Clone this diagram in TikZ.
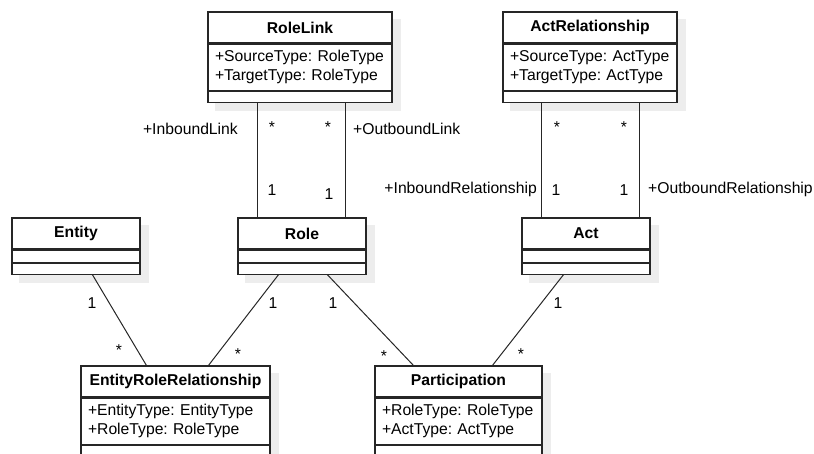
\documentclass[tikz,border=0pt]{standalone}
\usepackage{fontspec}
\setmainfont{Liberation Sans}
\usetikzlibrary{backgrounds}
\tikzset{
  clsbox/.style={draw=black!85, line width=1.1pt, fill=white, inner sep=0pt},
  clshead/.style={clsbox, font=\bfseries, minimum height=31pt},
  clsattr/.style={clsbox, align=left, inner xsep=7pt, minimum height=46pt},
  clsshadow/.style={fill=black!7},
  assoc/.style={draw=black!85, line width=1pt},
  mult/.style={anchor=base, inner sep=0pt},
}
\begin{document}
\frenchspacing
\fontsize{15.7pt}{19pt}\selectfont
\begin{tikzpicture}[x=1pt, y=-1pt]
    \useasboundingbox (0,0) rectangle (814,453);
    \clip (0,0) rectangle (814,453);
    % classes with attributes
    \foreach \name/\x/\y/\w/\title/\la/\lb in {
        rl/300/27.5/184/RoleLink/{+SourceType: RoleType}/{+TargetType: RoleType},
        ar/590/27.5/174/ActRelationship/{+SourceType: ActType}/{+TargetType: ActType},
        err/175.5/381.5/189/EntityRoleRelationship/{+EntityType: EntityType}/{+RoleType: RoleType},
        part/458.5/381.5/167/Participation/{+RoleType: RoleType}/{+ActType: ActType}} {
        \pgfmathsetmacro\tw{\w-14}
        \node[clshead, minimum width=\w pt] (\name) at (\x,\y) {\title};
        \node[clsattr, text width=\tw pt, anchor=north] (\name-a) at (\name.south) {\la\\\lb};
        \node[clsbox, minimum width=\w pt, minimum height=11pt, anchor=north] (\name-o) at (\name-a.south) {};
    }
    % classes without attributes
    \foreach \name/\x/\title in {entity/76/Entity, role/302/Role, act/586/Act} {
        \node[clshead, minimum width=128pt] (\name) at (\x,233.5) {\title};
        \node[clsbox, minimum width=128pt, minimum height=12pt, anchor=north] (\name-a) at (\name.south) {};
        \node[clsbox, minimum width=128pt, minimum height=11pt, anchor=north] (\name-o) at (\name-a.south) {};
    }
    % shadows
    \begin{scope}[on background layer]
        \foreach \name in {rl, ar, err, part, entity, role, act}
            \fill[clsshadow] ([shift={(8pt,-8pt)}]\name.north west) rectangle ([shift={(8pt,-8pt)}]\name-o.south east);
    \end{scope}
    % associations
    \draw[assoc] ([xshift=50pt]rl-o.south west) -- ([xshift=20pt]role.north west);
    \draw[assoc] ([xshift=138pt]rl-o.south west) -- ([xshift=108pt]role.north west);
    \draw[assoc] ([xshift=39pt]ar-o.south west) -- ([xshift=20pt]act.north west);
    \draw[assoc] ([xshift=137pt]ar-o.south west) -- ([xshift=118pt]act.north west);
    \draw[assoc] ([xshift=81pt]entity-o.south west) -- ([xshift=66pt]err.north west);
    \draw[assoc] ([xshift=41pt]role-o.south west) -- ([xshift=128pt]err.north west);
    \draw[assoc] ([xshift=90pt]role-o.south west) -- ([xshift=39pt]part.north west);
    \draw[assoc] ([xshift=42pt]act-o.south west) -- ([xshift=118pt]part.north west);
    % role names
    \node[mult, anchor=base east] (inlink) at (238,134.5) {+InboundLink};
    \node[mult, anchor=base west] (outlink) at (353,134.5) {+OutboundLink};
    \node[mult, anchor=base east] (inrel) at (537,193.5) {+InboundRelationship};
    \node[mult, anchor=base west] (outrel) at (648,193.5) {+OutboundRelationship};
    % multiplicities
    \foreach \i/\x/\y/\m in {1/272/132/*, 2/328/132/*, 3/272/195.5/1, 4/329/199.5/1,
        5/557/132/*, 6/624/132/*, 7/556/195.5/1, 8/624/195.5/1,
        9/92/308.5/1, 10/119/355/*, 11/273/308.5/1, 12/238/359/*,
        13/333/308.5/1, 14/384/361/*, 15/558/308.5/1, 16/521/359/*} {
        \node[mult] (m\i) at (\x,\y) {\m};
    }
\end{tikzpicture}
\end{document}
